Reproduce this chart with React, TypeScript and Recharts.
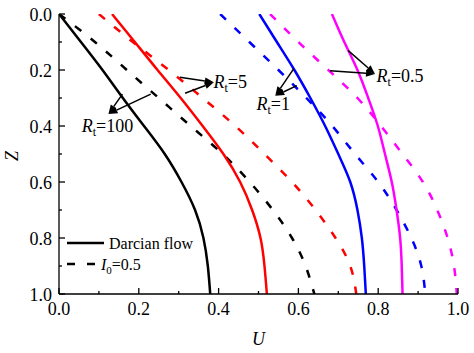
import { LineChart, Line, XAxis, YAxis, ReferenceLine, ReferenceDot, Legend } from "recharts";

// Z is the depth, U the velocity read at each depth
const zLevels = [0, 0.1, 0.2, 0.3, 0.4, 0.5, 0.6, 0.7, 0.8, 0.9, 1.0];

const uRt100Darcy = [0, 0.055, 0.109, 0.16, 0.213, 0.265, 0.307, 0.341, 0.362, 0.373, 0.379];
const uRt100I05 = [0, 0.09, 0.17, 0.25, 0.33, 0.41, 0.478, 0.536, 0.584, 0.618, 0.64];
const uRt5Darcy = [0.133, 0.19, 0.247, 0.305, 0.36, 0.412, 0.454, 0.484, 0.505, 0.515, 0.521];
const uRt5I05 = [0.1, 0.185, 0.275, 0.36, 0.442, 0.515, 0.584, 0.643, 0.693, 0.73, 0.745];
const uRt1Darcy = [0.502, 0.546, 0.59, 0.63, 0.667, 0.7, 0.73, 0.748, 0.759, 0.765, 0.769];
const uRt1I05 = [0.404, 0.477, 0.55, 0.62, 0.685, 0.742, 0.8, 0.846, 0.883, 0.908, 0.918];
const uRt05Darcy = [0.684, 0.715, 0.748, 0.775, 0.799, 0.817, 0.834, 0.846, 0.855, 0.859, 0.861];
const uRt05I05 = [0.529, 0.6, 0.675, 0.748, 0.807, 0.861, 0.912, 0.948, 0.974, 0.99, 0.997];

const axisTicks = [0, 0.1, 0.2, 0.3, 0.4, 0.5, 0.6, 0.7, 0.8, 0.9, 1.0];
const majorTicks = [0, 0.2, 0.4, 0.6, 0.8, 1.0];

const FONT = "'Liberation Serif', Tinos, 'Times New Roman', Times, 'Noto Serif', 'Nimbus Roman', FreeSerif, serif";
const textStyle = { fontFamily: FONT };

const toRows = (u: number[]) => zLevels.map((z, i) => ({ u: u[i], z }));

const series = [
  { key: "rt100-darcy", color: "#000000", dashed: false, u: uRt100Darcy },
  { key: "rt100-i05", color: "#000000", dashed: true, u: uRt100I05 },
  { key: "rt5-darcy", color: "#ff0000", dashed: false, u: uRt5Darcy },
  { key: "rt5-i05", color: "#ff0000", dashed: true, u: uRt5I05 },
  { key: "rt1-darcy", color: "#0000ff", dashed: false, u: uRt1Darcy },
  { key: "rt1-i05", color: "#0000ff", dashed: true, u: uRt1I05 },
  { key: "rt05-darcy", color: "#ff00ff", dashed: false, u: uRt05Darcy },
  { key: "rt05-i05", color: "#ff00ff", dashed: true, u: uRt05I05 },
];

// annotation placement, in (U, Z)
const annotations = [
  { rt: "100", label: [0.057, 0.42], tip: [0.124, 0.357], from: [[0.159, 0.286], [0.23, 0.286]] },
  { rt: "5", label: [0.387, 0.265], tip: [0.388, 0.244], from: [[0.303, 0.226], [0.316, 0.283]] },
  { rt: "1", label: [0.495, 0.343], tip: [0.542, 0.292], from: [[0.588, 0.196], [0.596, 0.256]] },
  { rt: "0.5", label: [0.796, 0.242], tip: [0.792, 0.214], from: [[0.725, 0.131], [0.679, 0.2025]] },
];

const isMajor = (v: number) => majorTicks.some((m) => Math.abs(m - v) < 1e-6);
const tickLen = (v: number) => (isMajor(v) ? 6 : 3);

function BottomTick({ x, y, payload }: any) {
  const v = payload.value;
  return (
    <g>
      <line x1={x} x2={x} y1={y} y2={y - tickLen(v)} stroke="#000" strokeWidth={1.3} />
      {isMajor(v) && (
        <text x={x} y={y + 21} textAnchor="middle" fontSize={18} style={textStyle} fill="#000">
          {v.toFixed(1)}
        </text>
      )}
    </g>
  );
}

function LeftTick({ x, y, payload }: any) {
  const v = payload.value;
  return (
    <g>
      <line x1={x} x2={x + tickLen(v)} y1={y} y2={y} stroke="#000" strokeWidth={1.3} />
      {isMajor(v) && (
        <text x={x - 7} y={y + 6.5} textAnchor="end" fontSize={18} style={textStyle} fill="#000">
          {v.toFixed(1)}
        </text>
      )}
    </g>
  );
}

function TopTick({ x, y, payload }: any) {
  return <line x1={x} x2={x} y1={y} y2={y + tickLen(payload.value)} stroke="#000" strokeWidth={1.3} />;
}

function RightTick({ x, y, payload }: any) {
  return <line x1={x} x2={x - tickLen(payload.value)} y1={y} y2={y} stroke="#000" strokeWidth={1.3} />;
}

function ArrowShape(props: any) {
  const { x1, y1, x2, y2 } = props;
  const dx = x2 - x1;
  const dy = y2 - y1;
  const len = Math.hypot(dx, dy) || 1;
  const ux = dx / len;
  const uy = dy / len;
  const head = 9;
  const half = 3.5;
  const bx = x2 - ux * head;
  const by = y2 - uy * head;
  const pts = `${x2},${y2} ${bx - uy * half},${by + ux * half} ${bx + uy * half},${by - ux * half}`;
  return (
    <g>
      <line x1={x1} y1={y1} x2={bx} y2={by} stroke="#000" strokeWidth={1.5} />
      <polygon points={pts} fill="#000" />
    </g>
  );
}

function rtLabel(rt: string) {
  return (p: any) => (
    <text x={p.cx} y={p.cy} fontSize={18} style={textStyle} fill="#000">
      <tspan fontStyle="italic">R</tspan>
      <tspan fontSize={12} dy={4}>t</tspan>
      <tspan dy={-4}>={rt}</tspan>
    </text>
  );
}

function LegendBox() {
  return (
    <svg width={150} height={44} style={{ display: "block" }}>
      <line x1={0} y1={11} x2={37} y2={11} stroke="#000" strokeWidth={2.5} />
      <text x={42} y={16.5} fontSize={16} style={textStyle} fill="#000">
        Darcian flow
      </text>
      <line x1={0} y1={32} x2={37} y2={32} stroke="#000" strokeWidth={2.5} strokeDasharray="8 12" />
      <text x={34} y={37.5} fontSize={16} style={textStyle} fill="#000">
        <tspan fontStyle="italic">I</tspan>
        <tspan fontSize={11} dy={4}>0</tspan>
        <tspan dy={-4}>=0.5</tspan>
      </text>
    </svg>
  );
}

export default function App() {
  return (
    <div style={{ position: "absolute", left: 0, top: 0, background: "#fff", fontFamily: FONT }}>
      <LineChart width={474} height={353} margin={{ top: 14, right: 16, bottom: 19, left: 9 }}>
        <XAxis
          dataKey="u"
          type="number"
          domain={[0, 1]}
          ticks={axisTicks}
          interval={0}
          height={40}
          tickSize={0}
          tickMargin={0}
          tickLine={false}
          axisLine={{ stroke: "#000", strokeWidth: 1.3 }}
          tick={BottomTick}
          allowDataOverflow
          label={{
            content: ({ viewBox }: any) => (
              <text
                x={viewBox.x + viewBox.width / 2}
                y={viewBox.y + 51}
                textAnchor="middle"
                fontSize={18}
                fontStyle="italic"
                style={textStyle}
                fill="#000"
              >
                U
              </text>
            ),
          }}
        />
        <XAxis
          xAxisId="top"
          orientation="top"
          type="number"
          domain={[0, 1]}
          ticks={axisTicks}
          interval={0}
          height={0}
          tickSize={0}
          tickMargin={0}
          tickLine={false}
          axisLine={{ stroke: "#000", strokeWidth: 1.3 }}
          tick={TopTick}
          allowDataOverflow
        />
        <YAxis
          dataKey="z"
          type="number"
          domain={[0, 1]}
          reversed
          ticks={axisTicks}
          interval={0}
          width={50}
          tickSize={0}
          tickMargin={0}
          tickLine={false}
          axisLine={{ stroke: "#000", strokeWidth: 1.3 }}
          tick={LeftTick}
          allowDataOverflow
          label={{
            content: ({ viewBox }: any) => {
              const x = viewBox.x + 9;
              const y = viewBox.y + viewBox.height / 2 + 2;
              return (
                <text
                  x={x}
                  y={y}
                  transform={`rotate(-90, ${x}, ${y})`}
                  textAnchor="middle"
                  fontSize={18}
                  fontStyle="italic"
                  style={textStyle}
                  fill="#000"
                >
                  Z
                </text>
              );
            },
          }}
        />
        <YAxis
          yAxisId="right"
          orientation="right"
          type="number"
          domain={[0, 1]}
          reversed
          ticks={axisTicks}
          interval={0}
          width={0}
          tickSize={0}
          tickMargin={0}
          tickLine={false}
          axisLine={{ stroke: "#000", strokeWidth: 1.3 }}
          tick={RightTick}
          allowDataOverflow
        />
        <Legend
          layout="vertical"
          align="center"
          verticalAlign="middle"
          content={() => <LegendBox />}
          wrapperStyle={{ left: 67, top: 232, width: 150 }}
        />
        {series.map((s) => (
          <Line
            key={s.key}
            data={toRows(s.u)}
            dataKey="z"
            type="natural"
            stroke={s.color}
            strokeWidth={2.5}
            strokeDasharray={s.dashed ? "8 12" : undefined}
            dot={false}
            activeDot={false}
            isAnimationActive={false}
          />
        ))}
        {annotations.flatMap((a) =>
          a.from.map((f, i) => (
            <ReferenceLine
              key={`${a.rt}-arrow-${i}`}
              segment={[
                { x: f[0], y: f[1] },
                { x: a.tip[0], y: a.tip[1] },
              ]}
              shape={ArrowShape}
            />
          ))
        )}
        {annotations.map((a) => (
          <ReferenceDot key={`${a.rt}-label`} x={a.label[0]} y={a.label[1]} r={0} shape={rtLabel(a.rt)} />
        ))}
      </LineChart>
    </div>
  );
}
